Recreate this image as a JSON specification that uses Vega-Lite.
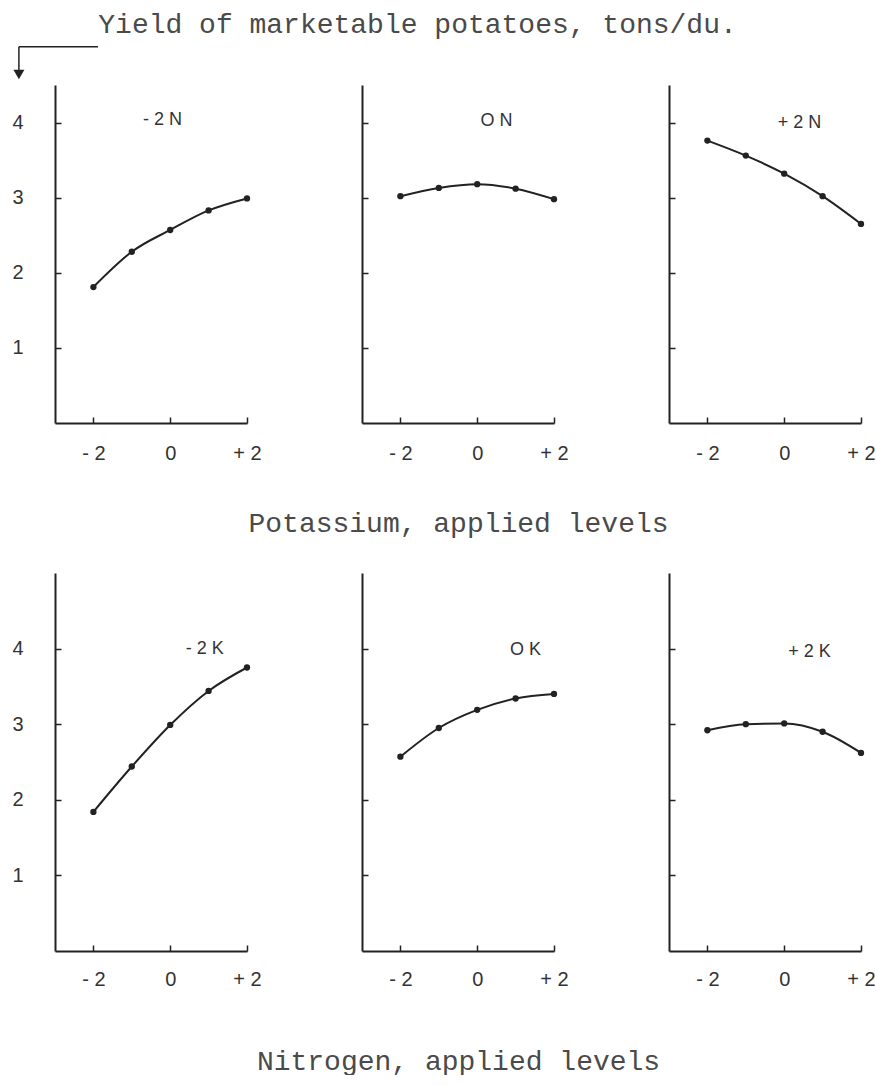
{
  "$schema": "https://vega.github.io/schema/vega-lite/v6.json",
  "padding": {"left": 11, "top": 10, "right": 0, "bottom": 0},
  "background": "white",
  "title": {"text": "Yield of marketable potatoes, tons/du.", "font": "Liberation Mono", "fontSize": 28, "fontWeight": "normal", "color": "#4a4a4a", "anchor": "middle", "offset": 7, "dx": -26},
  "datasets": {
    "yield": [
      {"panel": "-2N", "level": -2, "yield": 1.81}, {"panel": "-2N", "level": -1, "yield": 2.28}, {"panel": "-2N", "level": 0, "yield": 2.57}, {"panel": "-2N", "level": 1, "yield": 2.83}, {"panel": "-2N", "level": 2, "yield": 2.99},
      {"panel": "0N", "level": -2, "yield": 3.02}, {"panel": "0N", "level": -1, "yield": 3.13}, {"panel": "0N", "level": 0, "yield": 3.18}, {"panel": "0N", "level": 1, "yield": 3.12}, {"panel": "0N", "level": 2, "yield": 2.98},
      {"panel": "+2N", "level": -2, "yield": 3.76}, {"panel": "+2N", "level": -1, "yield": 3.56}, {"panel": "+2N", "level": 0, "yield": 3.32}, {"panel": "+2N", "level": 1, "yield": 3.02}, {"panel": "+2N", "level": 2, "yield": 2.65},
      {"panel": "-2K", "level": -2, "yield": 1.84}, {"panel": "-2K", "level": -1, "yield": 2.44}, {"panel": "-2K", "level": 0, "yield": 2.99}, {"panel": "-2K", "level": 1, "yield": 3.44}, {"panel": "-2K", "level": 2, "yield": 3.75},
      {"panel": "0K", "level": -2, "yield": 2.57}, {"panel": "0K", "level": -1, "yield": 2.95}, {"panel": "0K", "level": 0, "yield": 3.19}, {"panel": "0K", "level": 1, "yield": 3.34}, {"panel": "0K", "level": 2, "yield": 3.40},
      {"panel": "+2K", "level": -2, "yield": 2.92}, {"panel": "+2K", "level": -1, "yield": 3.00}, {"panel": "+2K", "level": 0, "yield": 3.01}, {"panel": "+2K", "level": 1, "yield": 2.90}, {"panel": "+2K", "level": 2, "yield": 2.62}
    ]
  },
  "config": {
    "view": {"stroke": null},
    "axis": {"grid": false, "domainColor": "#222", "domainWidth": 2, "tickColor": "#222", "tickWidth": 1.5, "tickSize": -6, "labelFont": "Liberation Sans", "labelFontSize": 20, "labelColor": "#333", "titleFont": "Liberation Mono", "titleFontSize": 28, "titleFontWeight": "normal", "titleColor": "#4a4a4a", "labelFlush": false},
    "text": {"font": "Liberation Sans", "fontSize": 18, "color": "#333"}
  },
  "columns": 3,
  "spacing": {"row": 150, "column": 115},
  "bounds": "flush",
  "concat": [
    {
      "width": 192, "height": 338,
      "layer": [
        {"data": {"name": "yield"}, "transform": [{"filter": "datum.panel == '-2N'"}], "mark": {"type": "line", "interpolate": "monotone", "color": "#222", "strokeWidth": 2},
         "encoding": {"x": {"field": "level", "type": "quantitative", "scale": {"domain": [-3, 2]}, "axis": {"values": [-2, 0, 2], "labelExpr": "datum.value < 0 ? '- 2' : (datum.value > 0 ? '+ 2' : '0')", "labelPadding": 26, "title": null}},
                      "y": {"field": "yield", "type": "quantitative", "scale": {"domain": [0, 4.5]}, "axis": {"values": [1, 2, 3, 4], "format": "d", "labelPadding": 38, "title": null}}}},
        {"data": {"name": "yield"}, "transform": [{"filter": "datum.panel == '-2N'"}], "mark": {"type": "point", "filled": true, "color": "#222", "size": 40, "opacity": 1},
         "encoding": {"x": {"field": "level", "type": "quantitative"}, "y": {"field": "yield", "type": "quantitative"}}},
        {"data": {"values": [{}]}, "mark": {"type": "text"}, "encoding": {"x": {"datum": -0.2}, "y": {"datum": 4.04}, "text": {"value": "- 2 N"}}},
        {"data": {"values": [{}]}, "mark": {"type": "rule", "color": "#222", "strokeWidth": 1.5}, "encoding": {"x": {"datum": -3.94}, "x2": {"datum": -1.88}, "y": {"datum": 5.01}}},
        {"data": {"values": [{}]}, "mark": {"type": "rule", "color": "#222", "strokeWidth": 1.5}, "encoding": {"x": {"datum": -3.94}, "y": {"datum": 5.01}, "y2": {"datum": 4.65}}},
        {"data": {"values": [{}]}, "mark": {"type": "point", "shape": "triangle-down", "filled": true, "color": "#222", "size": 120, "opacity": 1}, "encoding": {"x": {"datum": -3.94}, "y": {"datum": 4.64}}}
      ]
    },
    {
      "width": 192, "height": 338,
      "layer": [
        {"data": {"name": "yield"}, "transform": [{"filter": "datum.panel == '0N'"}], "mark": {"type": "line", "interpolate": "monotone", "color": "#222", "strokeWidth": 2},
         "encoding": {"x": {"field": "level", "type": "quantitative", "scale": {"domain": [-3, 2]}, "axis": {"values": [-2, 0, 2], "labelExpr": "datum.value < 0 ? '- 2' : (datum.value > 0 ? '+ 2' : '0')", "labelPadding": 26, "title": "Potassium, applied levels", "titlePadding": 46}},
                      "y": {"field": "yield", "type": "quantitative", "scale": {"domain": [0, 4.5]}, "axis": {"values": [1, 2, 3, 4], "labels": false, "title": null}}}},
        {"data": {"name": "yield"}, "transform": [{"filter": "datum.panel == '0N'"}], "mark": {"type": "point", "filled": true, "color": "#222", "size": 40, "opacity": 1},
         "encoding": {"x": {"field": "level", "type": "quantitative"}, "y": {"field": "yield", "type": "quantitative"}}},
        {"data": {"values": [{}]}, "mark": {"type": "text"}, "encoding": {"x": {"datum": 0.5}, "y": {"datum": 4.02}, "text": {"value": "O N"}}}
      ]
    },
    {
      "width": 192, "height": 338,
      "layer": [
        {"data": {"name": "yield"}, "transform": [{"filter": "datum.panel == '+2N'"}], "mark": {"type": "line", "interpolate": "monotone", "color": "#222", "strokeWidth": 2},
         "encoding": {"x": {"field": "level", "type": "quantitative", "scale": {"domain": [-3, 2]}, "axis": {"values": [-2, 0, 2], "labelExpr": "datum.value < 0 ? '- 2' : (datum.value > 0 ? '+ 2' : '0')", "labelPadding": 26, "title": null}},
                      "y": {"field": "yield", "type": "quantitative", "scale": {"domain": [0, 4.5]}, "axis": {"values": [1, 2, 3, 4], "labels": false, "title": null}}}},
        {"data": {"name": "yield"}, "transform": [{"filter": "datum.panel == '+2N'"}], "mark": {"type": "point", "filled": true, "color": "#222", "size": 40, "opacity": 1},
         "encoding": {"x": {"field": "level", "type": "quantitative"}, "y": {"field": "yield", "type": "quantitative"}}},
        {"data": {"values": [{}]}, "mark": {"type": "text"}, "encoding": {"x": {"datum": 0.4}, "y": {"datum": 4.0}, "text": {"value": "+ 2 N"}}}
      ]
    },
    {
      "width": 192, "height": 378,
      "layer": [
        {"data": {"name": "yield"}, "transform": [{"filter": "datum.panel == '-2K'"}], "mark": {"type": "line", "interpolate": "monotone", "color": "#222", "strokeWidth": 2},
         "encoding": {"x": {"field": "level", "type": "quantitative", "scale": {"domain": [-3, 2]}, "axis": {"values": [-2, 0, 2], "labelExpr": "datum.value < 0 ? '- 2' : (datum.value > 0 ? '+ 2' : '0')", "labelPadding": 24, "title": null}},
                      "y": {"field": "yield", "type": "quantitative", "scale": {"domain": [0, 5]}, "axis": {"values": [1, 2, 3, 4], "format": "d", "labelPadding": 38, "title": null}}}},
        {"data": {"name": "yield"}, "transform": [{"filter": "datum.panel == '-2K'"}], "mark": {"type": "point", "filled": true, "color": "#222", "size": 40, "opacity": 1},
         "encoding": {"x": {"field": "level", "type": "quantitative"}, "y": {"field": "yield", "type": "quantitative"}}},
        {"data": {"values": [{}]}, "mark": {"type": "text"}, "encoding": {"x": {"datum": 0.9}, "y": {"datum": 4.0}, "text": {"value": "- 2 K"}}}
      ]
    },
    {
      "width": 192, "height": 378,
      "layer": [
        {"data": {"name": "yield"}, "transform": [{"filter": "datum.panel == '0K'"}], "mark": {"type": "line", "interpolate": "monotone", "color": "#222", "strokeWidth": 2},
         "encoding": {"x": {"field": "level", "type": "quantitative", "scale": {"domain": [-3, 2]}, "axis": {"values": [-2, 0, 2], "labelExpr": "datum.value < 0 ? '- 2' : (datum.value > 0 ? '+ 2' : '0')", "labelPadding": 24, "title": "Nitrogen, applied levels", "titlePadding": 58}},
                      "y": {"field": "yield", "type": "quantitative", "scale": {"domain": [0, 5]}, "axis": {"values": [1, 2, 3, 4], "labels": false, "title": null}}}},
        {"data": {"name": "yield"}, "transform": [{"filter": "datum.panel == '0K'"}], "mark": {"type": "point", "filled": true, "color": "#222", "size": 40, "opacity": 1},
         "encoding": {"x": {"field": "level", "type": "quantitative"}, "y": {"field": "yield", "type": "quantitative"}}},
        {"data": {"values": [{}]}, "mark": {"type": "text"}, "encoding": {"x": {"datum": 1.26}, "y": {"datum": 3.98}, "text": {"value": "O K"}}}
      ]
    },
    {
      "width": 192, "height": 378,
      "layer": [
        {"data": {"name": "yield"}, "transform": [{"filter": "datum.panel == '+2K'"}], "mark": {"type": "line", "interpolate": "monotone", "color": "#222", "strokeWidth": 2},
         "encoding": {"x": {"field": "level", "type": "quantitative", "scale": {"domain": [-3, 2]}, "axis": {"values": [-2, 0, 2], "labelExpr": "datum.value < 0 ? '- 2' : (datum.value > 0 ? '+ 2' : '0')", "labelPadding": 24, "title": null}},
                      "y": {"field": "yield", "type": "quantitative", "scale": {"domain": [0, 5]}, "axis": {"values": [1, 2, 3, 4], "labels": false, "title": null}}}},
        {"data": {"name": "yield"}, "transform": [{"filter": "datum.panel == '+2K'"}], "mark": {"type": "point", "filled": true, "color": "#222", "size": 40, "opacity": 1},
         "encoding": {"x": {"field": "level", "type": "quantitative"}, "y": {"field": "yield", "type": "quantitative"}}},
        {"data": {"values": [{}]}, "mark": {"type": "text"}, "encoding": {"x": {"datum": 0.66}, "y": {"datum": 3.96}, "text": {"value": "+ 2 K"}}}
      ]
    }
  ]
}
